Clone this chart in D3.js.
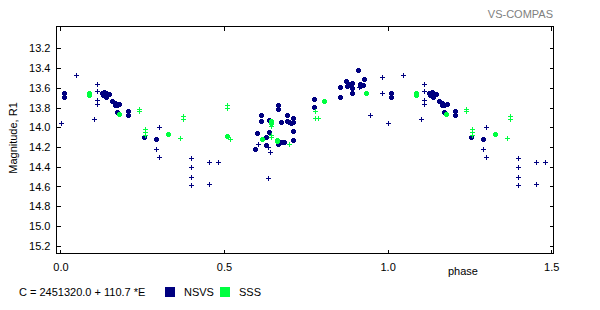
<!DOCTYPE html>
<html>
<head>
<meta charset="utf-8">
<script src="https://cdn.jsdelivr.net/npm/d3@7"></script>
<style>
  body { margin: 0; background: #fff; }
  svg { display: block; font-family: "Liberation Sans", Arial, sans-serif; font-size: 11px; }
</style>
</head>
<body>
<div class="canvas"></div>
<script>
// light curve, phase 0..1 ; points with phase < 0.5 are repeated at phase + 1
var nsvsBig = [
  [0.011, 13.66], [0.011, 13.70],
  [0.129, 13.66], [0.136, 13.645], [0.141, 13.655], [0.149, 13.665], [0.132, 13.68], [0.141, 13.695], [0.136, 13.67],
  [0.158, 13.74], [0.167, 13.76], [0.173, 13.78], [0.182, 13.77], [0.168, 13.775],
  [0.173, 13.85], [0.209, 13.84], [0.209, 13.885],
  [0.256, 14.105], [0.293, 14.12],
  [0.595, 14.23], [0.603, 14.065], [0.615, 13.88], [0.615, 13.94], [0.63, 14.1], [0.63, 14.18],
  [0.64, 13.93], [0.64, 14.05], [0.667, 13.775], [0.667, 13.815], [0.676, 13.947], [0.667, 14.17],
  [0.677, 14.15], [0.686, 14.15], [0.694, 13.876], [0.694, 13.94], [0.701, 13.95], [0.705, 13.96],
  [0.713, 13.91], [0.713, 13.95], [0.713, 14.045], [0.713, 14.13],
  [0.777, 13.72], [0.777, 13.795],
  [0.857, 13.60], [0.857, 13.70], [0.874, 13.54], [0.876, 13.59], [0.883, 13.57], [0.893, 13.56],
  [0.893, 13.61], [0.893, 13.66], [0.911, 13.42], [0.917, 13.57], [0.926, 13.58], [0.928, 13.52], [0.917, 13.59]
];
var nsvsSmall = [
  [0.004, 13.96], [0.05, 13.48], [0.105, 13.92], [0.114, 13.565], [0.114, 13.636], [0.114, 13.727], [0.114, 13.767],
  [0.303, 14.0], [0.294, 14.23], [0.303, 14.31],
  [0.40, 14.32], [0.40, 14.41], [0.40, 14.51], [0.40, 14.59],
  [0.455, 14.355], [0.483, 14.355], [0.455, 14.58],
  [0.605, 14.17], [0.635, 14.21], [0.641, 14.26], [0.635, 14.52],
  [0.913, 13.60], [0.949, 13.88], [0.983, 13.50], [0.983, 13.656]
];
var sssBig = [
  [0.089, 13.66], [0.089, 13.68], [0.181, 13.87], [0.329, 14.075], [0.51, 14.09],
  [0.617, 14.12], [0.644, 13.94], [0.644, 13.96], [0.663, 14.13], [0.663, 14.145],
  [0.806, 13.735], [0.934, 13.656]
];
var sssSmall = [
  [0.242, 13.82], [0.242, 13.84], [0.26, 14.02], [0.26, 14.05], [0.26, 14.08],
  [0.367, 14.115], [0.376, 13.89], [0.376, 13.92], [0.51, 13.78], [0.51, 13.81], [0.519, 14.12],
  [0.645, 13.99], [0.645, 14.08], [0.645, 14.105], [0.699, 14.17],
  [0.781, 13.84], [0.781, 13.91], [0.79, 13.91]
];
var xTicks = [0, 0.5, 1.0, 1.5];
var yTicks = [13.2, 13.4, 13.6, 13.8, 14.0, 14.2, 14.4, 14.6, 14.8, 15.0, 15.2];

var navy = "#000080", green = "#00ff40";

var width = 600, height = 310;
var box = { left: 56, top: 26, right: 553, bottom: 253 };

var svg = d3.select(".canvas").append("svg")
    .attr("width", width)
    .attr("height", height);

var x = d3.scaleLinear().domain([-0.0135, 1.5055]).range([box.left, box.right]);
var y = d3.scaleLinear().domain([12.974, 15.274]).range([box.top, box.bottom]);

// fold: repeat the first half of the cycle after phase 1
function fold(pts) {
    var out = pts.slice();
    pts.forEach(d => {
        if (d[0] + 1 <= 1.5) out.push([d[0] + 1, d[1]]);
    });
    return out;
}

// frame
svg.append("rect")
    .attr("x", box.left + 0.5).attr("y", box.top + 0.5)
    .attr("width", box.right - box.left).attr("height", box.bottom - box.top)
    .attr("fill", "none").attr("stroke", "#000").attr("shape-rendering", "crispEdges");

// axes, ticks pointing inwards
var gl = svg.append("g").attr("transform", `translate(${box.left + 0.5},0)`)
    .call(d3.axisLeft(y).tickValues(yTicks).tickSize(-4).tickPadding(6).tickFormat(d3.format(".1f")));
var gr = svg.append("g").attr("transform", `translate(${box.right + 0.5},0)`)
    .call(d3.axisRight(y).tickValues(yTicks).tickSize(-4).tickFormat(""));
var gb = svg.append("g").attr("transform", `translate(0,${box.bottom + 0.5})`)
    .call(d3.axisBottom(x).tickValues(xTicks).tickSize(-4).tickPadding(10).tickFormat(d3.format(".1f")));
var gt = svg.append("g").attr("transform", `translate(0,${box.top + 0.5})`)
    .call(d3.axisTop(x).tickValues(xTicks).tickSize(-4).tickFormat(""));

[gl, gr, gb, gt].forEach(g => {
    g.select(".domain").remove();
    g.selectAll("line").attr("stroke", "#000").attr("shape-rendering", "crispEdges");
    g.selectAll("text").attr("fill", "#000").style("font-family", "Liberation Sans, Arial, sans-serif").style("font-size", "11px");
});

// markers
var bigShape = "M-1.5,-2.5h3v1h1v3h-1v1h-3v-1h-1v-3h1z";
var smallShape = "M-2.5,-0.5h5v1h-5zM-0.5,-2.5h1v5h-1z";

function plot(pts, shape, color) {
    svg.append("g").selectAll("path")
        .data(fold(pts))
        .enter().append("path")
        .attr("d", shape)
        .attr("fill", color)
        .attr("shape-rendering", "crispEdges")
        .attr("transform", d => `translate(${Math.floor(x(d[0])) + 0.5},${Math.floor(y(d[1])) + 0.5})`);
}
plot(nsvsSmall, smallShape, navy);
plot(nsvsBig, bigShape, navy);
plot(sssSmall, smallShape, green);
plot(sssBig, bigShape, green);

// labels
svg.append("text")
    .attr("transform", "translate(17,138) rotate(-90)")
    .attr("text-anchor", "middle")
    .text("Magnitude, R1");

svg.append("text")
    .attr("x", 463).attr("y", 275)
    .attr("text-anchor", "middle")
    .text("phase");

svg.append("text")
    .attr("x", 553).attr("y", 18)
    .attr("text-anchor", "end")
    .attr("fill", "#808080")
    .text("VS-COMPAS");

// legend
svg.append("text").attr("x", 19).attr("y", 296).text("C = 2451320.0 + 110.7 *E");
svg.append("rect").attr("x", 165).attr("y", 287).attr("width", 10).attr("height", 10).attr("fill", navy);
svg.append("text").attr("x", 184).attr("y", 296).text("NSVS");
svg.append("rect").attr("x", 220).attr("y", 287).attr("width", 10).attr("height", 10).attr("fill", green);
svg.append("text").attr("x", 239).attr("y", 296).text("SSS");
</script>
</body>
</html>
